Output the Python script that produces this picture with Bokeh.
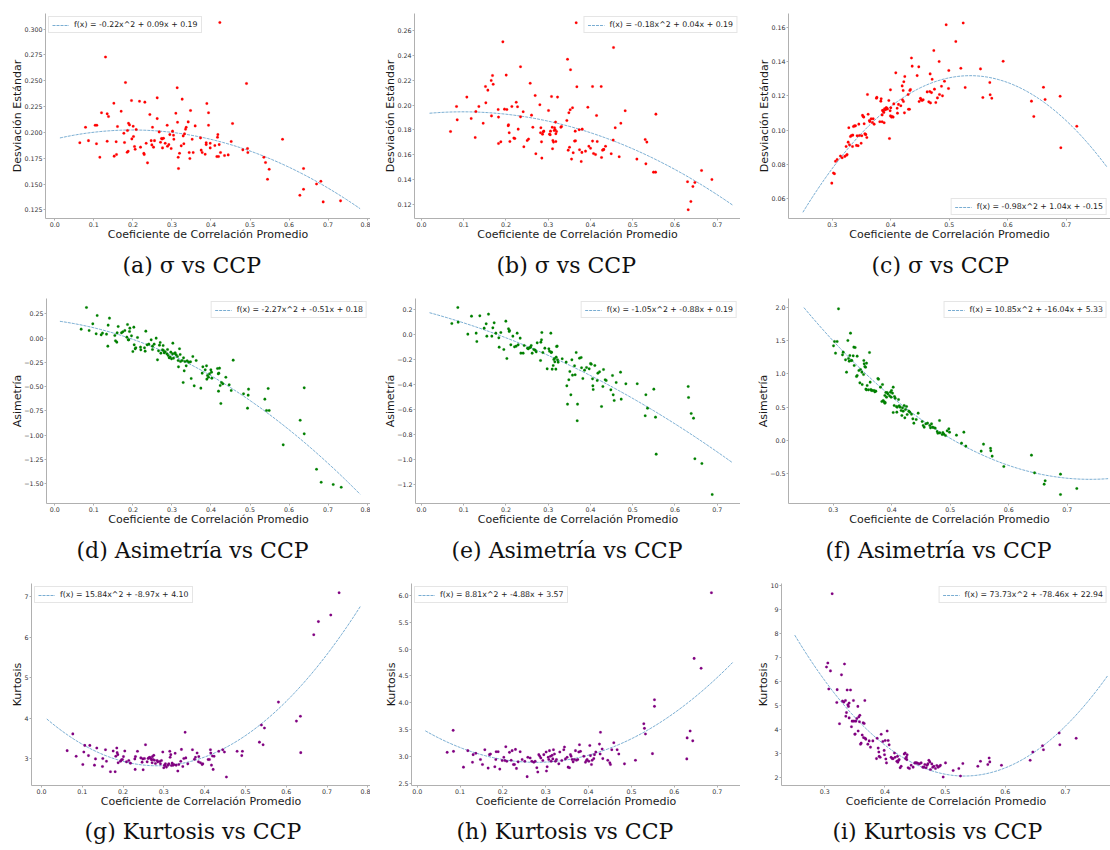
import numpy as np
from bokeh.plotting import figure
from bokeh.layouts import column, row
from bokeh.models import Range1d, FixedTicker, Title
from bokeh.embed import file_html
from bokeh.resources import INLINE

# ---------------- data ----------------
x_label = "Coeficiente de Correlación Promedio"
y_labels_rows = ["Desviación Estándar", "Asimetría", "Kurtosis"]
captions = ["(a) σ vs CCP", "(b) σ vs CCP", "(c) σ vs CCP",
            "(d) Asimetría vs CCP", "(e) Asimetría vs CCP", "(f) Asimetría vs CCP",
            "(g) Kurtosis vs CCP", "(h) Kurtosis vs CCP", "(i) Kurtosis vs CCP"]
legend_texts = ["f(x) = -0.22x^2 + 0.09x + 0.19",
                "f(x) = -0.18x^2 + 0.04x + 0.19",
                "f(x) = -0.98x^2 + 1.04x + -0.15",
                "f(x) = -2.27x^2 + -0.51x + 0.18",
                "f(x) = -1.05x^2 + -0.88x + 0.19",
                "f(x) = 10.85x^2 + -16.04x + 5.33",
                "f(x) = 15.84x^2 + -8.97x + 4.10",
                "f(x) = 8.81x^2 + -4.88x + 3.57",
                "f(x) = 73.73x^2 + -78.46x + 22.94"]

# quadratic fit coefficients [a, b, c] for a*x^2 + b*x + c
fit_a = [-0.224, 0.089, 0.1935]
fit_b = [-0.184, 0.036, 0.1928]
fit_c = [-0.974, 1.044, -0.148]
fit_d = [-2.27, -0.51, 0.18]
fit_e = [-1.05, -0.88, 0.194]
fit_f = [10.85, -16.04, 5.335]
fit_g = [15.84, -8.97, 4.10]
fit_h = [8.81, -4.88, 3.57]
fit_i = [73.73, -78.46, 22.94]
fit_span_col1 = [0.013, 0.782]
fit_span_col2 = [0.019, 0.736]
fit_span_col3 = [0.25, 0.77]

x_ticks_col1 = [0.0, 0.1, 0.2, 0.3, 0.4, 0.5, 0.6, 0.7, 0.8]
x_ticks_col2 = [0.0, 0.1, 0.2, 0.3, 0.4, 0.5, 0.6, 0.7]
x_ticks_col3 = [0.3, 0.4, 0.5, 0.6, 0.7]

y_ticks_a = [0.125, 0.15, 0.175, 0.2, 0.225, 0.25, 0.275, 0.3]
y_labels_a = ["0.125", "0.150", "0.175", "0.200", "0.225", "0.250", "0.275", "0.300"]
y_ticks_b = [0.12, 0.14, 0.16, 0.18, 0.2, 0.22, 0.24, 0.26]
y_labels_b = ["0.12", "0.14", "0.16", "0.18", "0.20", "0.22", "0.24", "0.26"]
y_ticks_c = [0.06, 0.08, 0.1, 0.12, 0.14, 0.16]
y_labels_c = ["0.06", "0.08", "0.10", "0.12", "0.14", "0.16"]
y_ticks_d = [-1.5, -1.25, -1.0, -0.75, -0.5, -0.25, 0.0, 0.25]
y_labels_d = ["−1.50", "−1.25", "−1.00", "−0.75", "−0.50", "−0.25", "0.00", "0.25"]
y_ticks_e = [-1.2, -1.0, -0.8, -0.6, -0.4, -0.2, 0.0, 0.2]
y_labels_e = ["−1.2", "−1.0", "−0.8", "−0.6", "−0.4", "−0.2", "0.0", "0.2"]
y_ticks_f = [-0.5, 0.0, 0.5, 1.0, 1.5, 2.0]
y_labels_f = ["−0.5", "0.0", "0.5", "1.0", "1.5", "2.0"]
y_ticks_g = [3, 4, 5, 6, 7]
y_labels_g = ["3", "4", "5", "6", "7"]
y_ticks_h = [2.5, 3.0, 3.5, 4.0, 4.5, 5.0, 5.5, 6.0]
y_labels_h = ["2.5", "3.0", "3.5", "4.0", "4.5", "5.0", "5.5", "6.0"]
y_ticks_i = [2, 3, 4, 5, 6, 7, 8, 9, 10]
y_labels_i = ["2", "3", "4", "5", "6", "7", "8", "9", "10"]

a_x = [0.064,0.0786,0.0862,0.1033,0.1076,0.1067,0.1153,0.1196,0.1298,0.1341,0.1341,0.1375,0.1512,0.152,0.1571,0.158,0.1605,0.1699,0.1768,0.1785,0.181,0.1853,0.1861,0.1879,0.1887,0.1913,0.1964,0.1973,0.2007,0.2015,0.2041,0.2058,0.2084,0.2169,0.2195,0.228,0.2289,0.2306,0.234,0.2374,0.2434,0.2468,0.2485,0.2502,0.2528,0.2553,0.2622,0.2622,0.2673,0.2707,0.2733,0.275,0.2758,0.2784,0.2827,0.2878,0.2886,0.2921,0.2946,0.298,0.3015,0.304,0.3049,0.31,0.3134,0.3143,0.316,0.3168,0.3194,0.3237,0.3262,0.3288,0.3305,0.3322,0.3348,0.3365,0.3416,0.3442,0.3459,0.3476,0.3518,0.3544,0.3595,0.3732,0.3749,0.3775,0.3851,0.3877,0.3877,0.3894,0.3937,0.3937,0.398,0.398,0.4099,0.415,0.4167,0.4176,0.4193,0.421,0.4227,0.4244,0.4347,0.4441,0.4518,0.4552,0.4816,0.491,0.4936,0.4944,0.5354,0.5397,0.5448,0.5491,0.5833,0.6277,0.6371,0.6371,0.6704,0.6815,0.6874,0.7319]
a_y = [0.19,0.205,0.192,0.207,0.207,0.189,0.176,0.219,0.273,0.1915,0.218,0.2154,0.2283,0.177,0.191,0.1786,0.2057,0.2205,0.1992,0.1902,0.2483,0.1808,0.2018,0.1818,0.2089,0.2073,0.2309,0.1937,0.206,0.196,0.1863,0.1837,0.2028,0.2302,0.1857,0.1798,0.1786,0.2293,0.1895,0.1705,0.2173,0.192,0.1879,0.205,0.1857,0.192,0.2335,0.2134,0.2005,0.1905,0.1941,0.1937,0.185,0.1944,0.1895,0.207,0.1866,0.1882,0.1979,0.1844,0.2012,0.1973,0.1934,0.2186,0.2432,0.2099,0.176,0.165,0.1798,0.187,0.2322,0.1966,0.189,0.1986,0.2031,0.205,0.2102,0.1805,0.1747,0.2212,0.1934,0.1805,0.2063,0.1947,0.1828,0.1805,0.1789,0.1882,0.19,0.228,0.219,0.207,0.185,0.1895,0.1873,0.1766,0.1953,0.1979,0.1766,0.1882,0.3065,0.1805,0.1776,0.1782,0.1912,0.2086,0.1831,0.2474,0.1844,0.1805,0.176,0.1708,0.1546,0.1643,0.1934,0.1391,0.145,0.165,0.1501,0.1527,0.1327,0.1337]

b_x = [0.0687,0.0829,0.0845,0.1073,0.1176,0.1271,0.1287,0.1358,0.146,0.1515,0.1523,0.1571,0.165,0.1657,0.1681,0.1697,0.1815,0.1823,0.1823,0.1878,0.1926,0.1965,0.2005,0.2021,0.2052,0.206,0.2076,0.2092,0.2139,0.2186,0.221,0.2242,0.2273,0.2289,0.2344,0.2344,0.2407,0.2423,0.2502,0.2534,0.2573,0.2605,0.2636,0.2691,0.2707,0.2802,0.2818,0.2826,0.2841,0.2849,0.2865,0.2881,0.2897,0.3007,0.3031,0.3047,0.3054,0.3078,0.3094,0.3102,0.311,0.3125,0.3141,0.3149,0.3165,0.3173,0.3181,0.3181,0.3197,0.322,0.3299,0.3315,0.3441,0.3457,0.3473,0.3489,0.3504,0.352,0.3528,0.3552,0.3575,0.3591,0.3623,0.3639,0.3646,0.3662,0.3678,0.3733,0.3741,0.3781,0.3797,0.3804,0.3883,0.3938,0.3962,0.4002,0.4049,0.4049,0.4073,0.412,0.4144,0.416,0.4254,0.4262,0.4286,0.4302,0.4317,0.4357,0.4491,0.4538,0.4546,0.4586,0.468,0.4719,0.4822,0.5099,0.5296,0.5312,0.5335,0.5493,0.5541,0.5549,0.6298,0.6314,0.6377,0.6425,0.6472,0.663,0.6875]
b_y = [0.1787,0.1989,0.1881,0.2064,0.1892,0.1739,0.1948,0.1989,0.1854,0.2149,0.2018,0.212,0.2198,0.1913,0.2238,0.2168,0.1964,0.1903,0.1691,0.1704,0.2509,0.1967,0.2241,0.1964,0.1833,0.1841,0.1777,0.1707,0.1989,0.1734,0.1731,0.2023,0.1986,0.1806,0.2308,0.1905,0.1946,0.1664,0.1715,0.1726,0.2176,0.1919,0.1822,0.2077,0.1608,0.2002,0.1777,0.1817,0.1704,0.1573,0.1766,0.1785,0.179,0.1956,0.1766,0.1761,0.179,0.2069,0.1822,0.1648,0.1715,0.1702,0.1795,0.1817,0.1801,0.1863,0.1769,0.1707,0.1787,0.2064,0.1822,0.1828,0.1876,0.2369,0.1637,0.1938,0.1661,0.1962,0.2284,0.1565,0.1978,0.1616,0.171,0.179,0.1712,0.2662,0.2147,0.1801,0.164,0.1546,0.1619,0.1806,0.1629,0.1983,0.1669,0.1653,0.171,0.2149,0.161,0.1602,0.1916,0.1707,0.2149,0.1578,0.1637,0.164,0.1643,0.1669,0.1608,0.1718,0.2463,0.1817,0.1584,0.1854,0.1954,0.1565,0.1723,0.1527,0.1702,0.146,0.146,0.1927,0.1383,0.1157,0.1224,0.1345,0.1377,0.1474,0.1401]

c_x = [0.2994,0.3023,0.304,0.3057,0.3085,0.3142,0.3171,0.3216,0.3239,0.3245,0.3256,0.3274,0.3285,0.3296,0.3313,0.333,0.3348,0.3353,0.3365,0.3382,0.3399,0.3416,0.3427,0.3444,0.3456,0.3467,0.3496,0.3507,0.3519,0.353,0.3541,0.3547,0.3559,0.357,0.3576,0.3593,0.3604,0.3615,0.3638,0.3644,0.3667,0.3689,0.3701,0.3718,0.3758,0.3764,0.3815,0.3832,0.3838,0.3855,0.3855,0.3861,0.3872,0.3883,0.3889,0.3895,0.3906,0.3912,0.3923,0.3929,0.3946,0.3969,0.398,0.3991,0.3997,0.3997,0.4003,0.4014,0.4026,0.4043,0.4054,0.4088,0.4111,0.4117,0.4134,0.4174,0.4197,0.4202,0.4214,0.4219,0.4225,0.4236,0.4242,0.4299,0.4305,0.4322,0.4328,0.4339,0.4356,0.4368,0.4453,0.4481,0.4487,0.451,0.4521,0.4538,0.4556,0.4624,0.4652,0.4669,0.4675,0.4681,0.4698,0.4709,0.4738,0.4749,0.4772,0.48,0.4829,0.4835,0.4869,0.4886,0.492,0.4949,0.4989,0.4994,0.5114,0.52,0.524,0.5274,0.5536,0.5576,0.5695,0.5701,0.5729,0.5923,0.6407,0.6447,0.6612,0.664,0.6897,0.6909,0.7182]
c_y = [0.0691,0.075,0.0746,0.0819,0.0829,0.0849,0.0839,0.0847,0.0905,0.0854,0.0858,0.093,0.1014,0.0915,0.0963,0.0969,0.0905,0.0971,0.1021,0.1025,0.1025,0.0911,0.0967,0.0909,0.1035,0.0969,0.0924,0.0967,0.1087,0.108,0.1076,0.1037,0.0979,0.0975,0.0975,0.0957,0.1208,0.1093,0.1056,0.105,0.1066,0.1045,0.1066,0.1035,0.1186,0.1192,0.1049,0.1169,0.1183,0.1089,0.1049,0.1115,0.1111,0.1103,0.1043,0.1124,0.112,0.112,0.113,0.113,0.1124,0.1173,0.0951,0.1113,0.1083,0.1235,0.113,0.1076,0.108,0.1076,0.1153,0.1334,0.1128,0.1099,0.115,0.1142,0.1258,0.1177,0.1231,0.1167,0.1282,0.1101,0.1313,0.1208,0.1122,0.1122,0.1231,0.1237,0.1421,0.1373,0.1318,0.1369,0.1167,0.1186,0.1177,0.1173,0.1177,0.1223,0.1165,0.1225,0.1328,0.1159,0.1219,0.1297,0.1464,0.1239,0.1161,0.1188,0.14,0.1208,0.1256,0.12,0.1285,0.1614,0.1243,0.1348,0.1517,0.1361,0.1625,0.1249,0.1357,0.119,0.1278,0.1206,0.1186,0.1402,0.1169,0.108,0.125,0.1179,0.1198,0.0897,0.1023]

d_x = [0.0675,0.0811,0.0879,0.0973,0.1059,0.1085,0.1187,0.1221,0.1324,0.1358,0.1366,0.14,0.1537,0.1554,0.1588,0.1597,0.1623,0.1708,0.1742,0.1794,0.1845,0.1862,0.1879,0.1896,0.1913,0.1922,0.1964,0.1999,0.2024,0.2033,0.2058,0.2075,0.2118,0.2195,0.2203,0.2297,0.2314,0.2331,0.2365,0.2408,0.2468,0.2502,0.2502,0.2545,0.2596,0.263,0.2656,0.2681,0.2699,0.2716,0.2758,0.2775,0.2784,0.2801,0.2827,0.287,0.2887,0.2904,0.2929,0.2955,0.2972,0.2989,0.3015,0.3023,0.304,0.3066,0.3083,0.3109,0.3143,0.316,0.3168,0.3194,0.3211,0.322,0.3262,0.3288,0.3297,0.3314,0.3331,0.3365,0.339,0.3433,0.3476,0.3493,0.3535,0.357,0.3621,0.3741,0.3775,0.3792,0.3852,0.3886,0.3894,0.3911,0.3937,0.3963,0.3997,0.4014,0.4022,0.4168,0.4185,0.4193,0.4202,0.4219,0.4236,0.4253,0.427,0.4304,0.4381,0.4467,0.4518,0.4569,0.4834,0.4936,0.4953,0.4962,0.538,0.5423,0.5465,0.5491,0.585,0.6285,0.6388,0.6388,0.6704,0.6823,0.7131,0.7336]
d_y = [0.0921,0.3152,0.0784,0.147,0.0441,0.2328,0.0338,0.051,0.0407,-0.0829,0.1333,0.2054,0.0269,-0.028,-0.0417,0.0544,0.1196,0.0544,0.0647,0.0784,0.0098,0.1402,-0.0177,-0.0177,0.0681,0.1024,0.0235,-0.1378,0.1127,-0.0691,-0.1103,-0.1,0.0063,-0.0932,-0.1206,-0.1,-0.1344,0.0716,-0.0691,-0.0623,-0.0177,-0.0829,-0.1172,-0.0623,-0.0005,-0.2236,-0.1309,-0.0726,-0.0451,-0.1549,-0.1206,-0.076,-0.1275,-0.1515,-0.1412,-0.1618,-0.1172,-0.179,-0.203,-0.1961,-0.1446,-0.2133,-0.1618,-0.052,-0.2064,-0.1584,-0.1515,-0.1721,-0.1893,-0.2304,-0.2956,-0.1103,-0.1687,-0.2407,-0.2304,-0.4569,-0.203,-0.3368,-0.2407,-0.2853,-0.2339,-0.2476,-0.2442,-0.4158,-0.1893,-0.4913,-0.2304,-0.5153,-0.3608,-0.2956,-0.3265,-0.2853,-0.4226,-0.3849,-0.4021,-0.3677,-0.3265,-0.3505,-0.4123,-0.3128,-0.3677,-0.5462,-0.3608,-0.3094,-0.4878,-0.6731,-0.4569,-0.4707,-0.4021,-0.481,-0.5393,-0.227,-0.5736,-0.7212,-0.5873,-0.5256,-0.6285,-0.7452,-0.5187,-0.7452,-1.0987,-0.8447,-0.5118,-0.9854,-1.3492,-1.483,-1.5071,-1.5345]

e_x = [0.0718,0.086,0.0868,0.1097,0.1184,0.1294,0.131,0.1381,0.1484,0.1531,0.1547,0.1586,0.1665,0.1689,0.172,0.176,0.1831,0.1839,0.1878,0.1949,0.1997,0.2021,0.206,0.2076,0.2084,0.2115,0.2163,0.2202,0.2242,0.2265,0.2289,0.2336,0.2352,0.2407,0.2431,0.251,0.2526,0.2557,0.2581,0.2597,0.262,0.266,0.2691,0.2715,0.2739,0.2818,0.2826,0.2841,0.2849,0.2873,0.292,0.2975,0.3015,0.3031,0.3062,0.307,0.3078,0.3094,0.3118,0.3133,0.3149,0.3157,0.3181,0.3189,0.3197,0.3212,0.322,0.3236,0.3331,0.3425,0.3441,0.3457,0.3488,0.3512,0.3536,0.356,0.3575,0.3623,0.3638,0.3662,0.3686,0.3694,0.3741,0.3781,0.3789,0.382,0.386,0.3907,0.397,0.4002,0.4018,0.4049,0.4057,0.4065,0.4104,0.416,0.4175,0.4215,0.4262,0.4294,0.4309,0.4349,0.4373,0.4483,0.4522,0.4538,0.4562,0.4609,0.4712,0.4728,0.4838,0.5107,0.5296,0.5312,0.5351,0.55,0.554,0.5556,0.6314,0.6322,0.6385,0.644,0.6472,0.6638,0.6882]
e_y = [0.0907,0.2187,0.1013,0.0053,0.1493,0.0133,-0.0533,0.152,0.0533,0.088,-0.0107,0.1653,-0.0107,0.056,0.096,0.0133,-0.024,-0.0987,0.0187,-0.1173,0.1093,-0.1893,0.048,0.0267,0.0347,-0.08,-0.0107,-0.096,-0.0907,0.0133,-0.08,-0.0267,-0.1467,-0.1467,-0.0853,-0.1067,-0.112,-0.104,-0.0987,-0.0853,-0.1467,-0.1173,-0.1227,-0.136,-0.064,-0.2053,-0.0587,-0.04,0.0187,-0.1413,-0.1067,-0.272,-0.112,-0.1307,0.0133,-0.1413,-0.1387,-0.2747,-0.2453,-0.1973,-0.1893,-0.216,-0.2747,-0.1787,-0.0933,-0.0907,-0.2,-0.2187,-0.192,-0.2187,-0.408,-0.5547,-0.36,-0.2933,-0.48,-0.2,-0.3227,-0.248,-0.32,-0.1413,-0.688,-0.5547,-0.1867,-0.1813,-0.264,-0.3493,-0.2827,-0.2613,-0.272,-0.2293,-0.2347,-0.352,-0.408,-0.4373,-0.2453,-0.3653,-0.3067,-0.296,-0.5733,-0.4133,-0.2773,-0.36,-0.3653,-0.44,-0.3253,-0.48,-0.5253,-0.3813,-0.2987,-0.5147,-0.392,-0.392,-0.648,-0.48,-0.5867,-0.4347,-0.6587,-0.9547,-0.4133,-0.5013,-0.6293,-0.6667,-0.992,-1.0293,-1.2773]

f_x = [0.3006,0.3023,0.304,0.3068,0.3091,0.3159,0.3171,0.3211,0.3228,0.3251,0.3262,0.3274,0.3285,0.3296,0.3308,0.3319,0.3342,0.3353,0.3359,0.3376,0.3399,0.341,0.341,0.3439,0.3456,0.3467,0.349,0.3496,0.3519,0.3524,0.353,0.3541,0.3553,0.3559,0.357,0.357,0.3581,0.3604,0.3621,0.3632,0.3644,0.3655,0.3672,0.37,0.3712,0.3729,0.3764,0.3775,0.3809,0.3832,0.3843,0.3855,0.3872,0.3883,0.3883,0.3889,0.39,0.3912,0.3923,0.3934,0.3963,0.398,0.3991,0.3997,0.4014,0.4026,0.4026,0.4043,0.4048,0.406,0.4083,0.4088,0.4094,0.4117,0.4128,0.4145,0.4162,0.4174,0.4185,0.4197,0.4214,0.4225,0.4236,0.4254,0.4265,0.4293,0.431,0.4339,0.4362,0.4379,0.4419,0.4453,0.4521,0.4538,0.4556,0.4584,0.4613,0.4652,0.4664,0.4681,0.4698,0.4715,0.4744,0.4778,0.4789,0.4818,0.4823,0.4863,0.4875,0.4892,0.492,0.4949,0.4977,0.4989,0.5108,0.5194,0.5234,0.5268,0.553,0.557,0.569,0.5695,0.5718,0.5917,0.639,0.6442,0.6607,0.6624,0.6886,0.6886,0.7165]
f_y = [1.4254,1.4909,1.3145,1.4909,1.9849,1.2893,1.3296,1.2137,1.0272,1.506,1.2339,1.1935,1.2792,1.6169,1.2036,1.2036,1.2742,1.4052,1.128,1.4002,0.9617,0.9768,1.2692,1.0524,0.8659,1.0675,1.0272,0.8407,0.9919,1.2036,1.1532,1.1129,1.1028,0.7702,1.1633,0.7601,0.8256,0.7601,1.3246,0.876,0.7651,0.75,0.75,0.75,0.7298,0.7399,0.9315,0.9214,0.8004,0.5837,0.8407,0.5988,0.5786,0.5585,0.6744,0.5685,0.7198,0.6492,0.7198,0.6996,0.6694,0.7248,0.6492,0.75,0.7097,0.8004,0.4173,0.5232,0.6593,0.6341,0.5081,0.4224,0.498,0.6139,0.5181,0.498,0.4476,0.372,0.4879,0.4375,0.5232,0.3367,0.4627,0.5081,0.3871,0.4375,0.4224,0.3921,0.3216,0.256,0.3115,0.4073,0.2812,0.2208,0.1956,0.246,0.256,0.2208,0.1855,0.246,0.1956,0.1905,0.1804,0.13,0.1048,0.2964,0.1099,0.0847,0.1149,0.0897,0.0696,0.1401,0.1704,0.1204,0.0746,-0.0464,0.1204,-0.0917,-0.1673,-0.0615,-0.125,-0.1628,-0.2429,-0.3992,-0.2278,-0.495,-0.6663,-0.6159,-0.5151,-0.8226,-0.7319]

g_x = [0.0629,0.0768,0.085,0.1013,0.1038,0.1062,0.1152,0.1185,0.1299,0.1324,0.1356,0.1495,0.1503,0.1569,0.1593,0.1691,0.1757,0.1806,0.1822,0.1846,0.1855,0.1871,0.1879,0.1936,0.1961,0.1985,0.201,0.2042,0.2083,0.214,0.2181,0.2288,0.2296,0.2304,0.2353,0.2435,0.2467,0.2484,0.2492,0.2525,0.255,0.259,0.2614,0.2631,0.2655,0.268,0.2696,0.2712,0.2721,0.2737,0.2753,0.277,0.2794,0.2835,0.2851,0.29,0.2917,0.2941,0.2974,0.2998,0.3015,0.3031,0.3039,0.3064,0.3105,0.3121,0.3145,0.3154,0.317,0.3186,0.3203,0.3227,0.3244,0.3276,0.3301,0.3342,0.3366,0.3415,0.3431,0.3464,0.3489,0.3521,0.3538,0.3587,0.3701,0.375,0.3775,0.3815,0.3848,0.3856,0.3897,0.3938,0.3954,0.4085,0.4118,0.4142,0.415,0.4167,0.4191,0.4208,0.4232,0.4346,0.4444,0.4485,0.4534,0.4796,0.491,0.4926,0.5343,0.5392,0.5433,0.5466,0.5809,0.625,0.6348,0.6356,0.6675,0.6789,0.7092,0.7296]
g_y = [3.203,3.617,3.065,2.862,3.17,3.333,3.081,3.333,2.846,3.0,3.268,2.813,3.008,3.227,2.943,2.684,3.195,2.684,3.065,3.268,3.154,3.105,2.903,2.943,2.976,2.984,3.057,3.195,2.927,2.959,2.895,3.0,2.74,3.057,3.187,3.024,2.919,3.0,2.732,3.008,3.349,2.927,3.008,3.024,3.041,3.008,2.976,2.903,3.057,2.984,3.089,2.968,2.886,2.959,2.927,2.935,2.878,2.959,3.17,2.781,2.846,2.838,2.878,2.797,2.846,2.878,3.187,3.041,3.105,2.838,2.895,2.846,2.862,3.138,2.846,2.7,2.862,2.943,3.235,2.813,3.008,3.657,3.024,2.878,3.227,2.992,3.041,3.146,2.927,3.057,2.903,2.862,2.878,2.984,2.984,3.227,3.146,2.846,3.073,2.74,3.065,3.187,3.227,3.17,2.554,3.187,3.081,3.187,3.414,3.836,3.349,3.763,4.403,3.933,4.055,3.154,6.067,6.391,6.554,7.105]

h_x = [0.07,0.084,0.0848,0.1081,0.1182,0.1291,0.1306,0.1369,0.1477,0.1524,0.1579,0.1656,0.1687,0.1711,0.1812,0.1835,0.1843,0.189,0.1928,0.1983,0.2022,0.2045,0.2068,0.2092,0.2154,0.2193,0.2216,0.2247,0.2271,0.2294,0.2317,0.2356,0.2403,0.245,0.2512,0.2566,0.2582,0.2636,0.2675,0.2722,0.2753,0.2792,0.2815,0.2838,0.2862,0.2885,0.2932,0.2955,0.3009,0.3017,0.3033,0.3056,0.3072,0.3087,0.311,0.3126,0.3149,0.3165,0.318,0.3204,0.3227,0.325,0.3305,0.3328,0.3375,0.3421,0.3437,0.346,0.3499,0.3522,0.3554,0.3577,0.3593,0.3616,0.3639,0.367,0.3694,0.3717,0.3748,0.3771,0.3787,0.381,0.3888,0.3927,0.395,0.3966,0.4005,0.4028,0.4044,0.4067,0.4082,0.4121,0.4137,0.4168,0.4253,0.4269,0.4277,0.4316,0.4331,0.4448,0.4495,0.451,0.4541,0.4588,0.4666,0.4705,0.4837,0.5093,0.5288,0.5303,0.5327,0.549,0.5537,0.5537,0.6291,0.6299,0.6369,0.643,0.6462,0.6625,0.6866]
h_y = [3.08,3.489,3.098,2.805,3.111,2.897,3.037,3.062,2.946,2.854,3.129,2.787,3.037,3.05,2.811,2.946,3.092,3.092,2.768,2.927,2.988,2.927,3.184,2.915,3.08,2.933,3.111,2.854,2.854,3.135,2.781,2.903,3.092,2.946,2.915,2.628,2.988,2.976,2.915,2.897,2.915,2.793,2.713,3.037,3.007,2.976,2.927,3.037,3.086,2.732,2.811,2.988,2.946,3.111,3.007,2.915,3.025,2.958,3.129,3.05,2.915,2.946,2.866,3.086,2.927,3.129,3.178,2.958,2.988,2.805,2.793,3.037,3.007,2.946,2.903,2.946,3.111,2.933,2.946,3.086,3.221,3.098,3.007,2.897,2.927,2.946,2.915,3.208,3.019,2.854,2.933,2.964,3.037,3.086,3.233,3.05,3.453,3.141,2.964,2.933,2.885,2.854,3.129,3.257,3.129,3.05,2.866,2.933,3.611,3.526,3.422,3.056,3.935,4.057,2.958,3.349,3.477,3.294,4.827,4.644,6.049]

i_x = [0.3028,0.305,0.3066,0.3094,0.3199,0.3205,0.3244,0.3277,0.3294,0.3316,0.3327,0.3343,0.3349,0.336,0.3371,0.3382,0.3393,0.3404,0.3404,0.3427,0.3443,0.3454,0.3476,0.3482,0.3499,0.3504,0.3515,0.3532,0.3549,0.3554,0.3565,0.3576,0.3582,0.3593,0.3604,0.3621,0.3637,0.3643,0.3654,0.3665,0.3671,0.3682,0.3715,0.3737,0.3759,0.3798,0.3859,0.387,0.3887,0.3898,0.3903,0.392,0.3937,0.3964,0.3986,0.3992,0.4003,0.4014,0.4025,0.4036,0.4053,0.4069,0.4102,0.4119,0.4136,0.4158,0.4169,0.4197,0.4208,0.4213,0.4224,0.4235,0.4252,0.4269,0.4319,0.4335,0.4341,0.4357,0.4363,0.4368,0.4385,0.4407,0.4435,0.4468,0.4496,0.4512,0.4529,0.4551,0.4573,0.4601,0.4629,0.4646,0.4662,0.4684,0.4701,0.4712,0.4729,0.4745,0.4756,0.4778,0.4795,0.4812,0.4839,0.4861,0.4884,0.4906,0.4922,0.4967,0.5006,0.5133,0.5227,0.5255,0.5294,0.5543,0.5587,0.5709,0.5731,0.5742,0.5936,0.6413,0.6457,0.6618,0.6634,0.6895,0.6906,0.7177,0.3122]
i_y = [6.607,6.772,5.691,6.443,5.13,5.663,4.241,6.279,5.185,5.144,6.731,5.212,4.555,4.706,5.65,5.034,4.966,4.487,5.103,5.65,4.118,4.35,5.212,4.35,3.803,3.817,4.35,4.46,4.966,3.94,4.528,4.323,4.596,3.393,3.434,3.776,4.282,3.666,4.255,5.212,3.639,3.598,3.393,3.529,3.269,3.529,2.791,3.639,3.228,3.064,2.886,2.845,3.803,3.502,3.133,2.955,3.543,2.777,2.613,3.94,3.543,3.365,2.845,2.791,2.791,3.023,2.845,2.681,2.886,2.64,2.709,2.75,2.408,2.476,2.982,3.023,2.791,2.859,2.75,2.955,2.408,2.38,2.517,2.435,2.613,2.613,2.613,2.585,2.572,2.613,2.435,2.435,2.544,2.408,2.517,2.572,2.722,2.654,2.339,2.572,2.435,2.476,2.38,2.503,2.435,2.476,2.517,2.025,2.613,2.298,2.38,2.066,2.585,2.476,2.681,2.544,2.818,2.654,2.517,2.722,3.064,3.324,3.16,3.858,3.365,3.639,9.658]

# ---------------- styling helpers ----------------
AX_COLOR = "#b0b0b0"
SANS = "DejaVu Sans"
SERIF = "DejaVu Serif"


def make_panel(xs, ys, color, xr, yr, xticks, yticks, ylabels_txt, ylabel,
               coef, span, legend_text, legend_loc, caption, left, height, cap_offset, cap_standoff):
    p = figure(width=370, height=height, output_backend="svg", toolbar_location=None,
               x_range=Range1d(*xr), y_range=Range1d(*yr),
               min_border_left=left, min_border_right=0, min_border_top=13,
               min_border_bottom=height - 218)
    p.outline_line_color = None
    p.xgrid.visible = False
    p.ygrid.visible = False
    p.background_fill_color = "white"
    p.border_fill_color = "white"

    fx = np.linspace(span[0], span[1], 200)
    fy = coef[0] * fx ** 2 + coef[1] * fx + coef[2]
    p.line(fx, fy, line_color="#1f77b4", line_alpha=0.6, line_width=1,
           line_dash="3 1", legend_label=legend_text)
    p.scatter(xs, ys, size=2.6, fill_color=color, line_color=color, line_width=0.2)

    xa = p.xaxis[0]
    ya = p.yaxis[0]
    xa.ticker = FixedTicker(ticks=xticks)
    xa.major_label_overrides = {t: f"{t:.1f}" for t in xticks}
    ya.ticker = FixedTicker(ticks=yticks)
    ya.major_label_overrides = {t: s for t, s in zip(yticks, ylabels_txt)}
    xa.axis_label = x_label
    ya.axis_label = ylabel
    for ax in (xa, ya):
        ax.axis_line_color = AX_COLOR
        ax.axis_line_width = 1
        ax.major_tick_line_color = AX_COLOR
        ax.major_tick_out = 2
        ax.major_tick_in = 0
        ax.minor_tick_line_color = None
        ax.major_label_text_font = SANS
        ax.major_label_text_font_size = "6.3px"
        ax.major_label_text_color = "#333333"
        ax.major_label_standoff = 1
        ax.axis_label_text_font = SANS
        ax.axis_label_text_font_size = "11px"
        ax.axis_label_text_font_style = "normal"
        ax.axis_label_text_color = "#1a1a1a"
    xa.axis_label_standoff = -2
    ya.axis_label_standoff = -3

    leg = p.legend[0]
    leg.location = legend_loc
    leg.margin = 3
    leg.padding = 3
    leg.spacing = 0
    leg.label_text_font = SANS
    leg.label_text_font_size = "7.8px"
    leg.label_text_color = "#222222"
    leg.label_height = 8
    leg.label_width = 10
    leg.glyph_height = 8
    leg.glyph_width = 17
    leg.label_standoff = 5
    leg.border_line_color = "#cccccc"
    leg.border_line_width = 0.8
    leg.background_fill_alpha = 0.85

    p.add_layout(Title(text=caption, align="left", offset=cap_offset, standoff=cap_standoff,
                       text_font=SERIF, text_font_size="22px", text_font_style="normal",
                       text_color="#111111"), "below")
    return p


RED, GREEN, PURPLE = "#ff0000", "#008000", "#800080"

pa = make_panel(a_x, a_y, RED, (-0.0239, 0.8086), (0.1166, 0.3152), x_ticks_col1, y_ticks_a, y_labels_a,
                y_labels_rows[0], fit_a, fit_span_col1, legend_texts[0], "top_left", captions[0], 45, 285, 77, 14)
pb = make_panel(b_x, b_y, RED, (-0.0166, 0.7552), (0.1087, 0.2737), x_ticks_col2, y_ticks_b, y_labels_b,
                y_labels_rows[0], fit_b, fit_span_col2, legend_texts[1], "top_right", captions[1], 44, 285, 82, 14)
pc = make_panel(c_x, c_y, RED, (0.2254, 0.7758), (0.0485, 0.168), x_ticks_col3, y_ticks_c, y_labels_c,
                y_labels_rows[0], fit_c, fit_span_col3, legend_texts[2], "bottom_right", captions[2], 48, 285, 83, 14)

pd_ = make_panel(d_x, d_y, GREEN, (-0.0213, 0.8086), (-1.7025, 0.4078), x_ticks_col1, y_ticks_d, y_labels_d,
                 y_labels_rows[1], fit_d, fit_span_col1, legend_texts[3], "top_right", captions[3], 46, 285, 30, 15)
pe = make_panel(e_x, e_y, GREEN, (-0.0142, 0.7552), (-1.3494, 0.2906), x_ticks_col2, y_ticks_e, y_labels_e,
                y_labels_rows[1], fit_e, fit_span_col2, legend_texts[4], "top_right", captions[4], 45, 285, 36, 15)
pf = make_panel(f_x, f_y, GREEN, (0.2236, 0.7741), (-0.9587, 2.1411), x_ticks_col3, y_ticks_f, y_labels_f,
                y_labels_rows[1], fit_f, fit_span_col3, legend_texts[5], "top_right", captions[5], 48, 285, 37, 15)

pg = make_panel(g_x, g_y, PURPLE, (-0.0245, 0.8066), (2.3427, 7.3327), x_ticks_col1, y_ticks_g, y_labels_g,
                y_labels_rows[2], fit_g, fit_span_col1, legend_texts[6], "top_left", captions[6], 31, 280, 53, 13)
ph = make_panel(h_x, h_y, PURPLE, (-0.0132, 0.7544), (2.4633, 6.22), x_ticks_col2, y_ticks_h, y_labels_h,
                y_labels_rows[2], fit_h, fit_span_col2, legend_texts[7], "top_left", captions[7], 41, 280, 45, 13)
pi = make_panel(i_x, i_y, PURPLE, (0.228, 0.7748), (1.6718, 10.082), x_ticks_col3, y_ticks_i, y_labels_i,
                y_labels_rows[2], fit_i, fit_span_col3, legend_texts[8], "top_right", captions[8], 41, 280, 51, 13)

p = column(row(pa, pb, pc), row(pd_, pe, pf), row(pg, ph, pi))

open("out.html", "w").write(file_html(p, INLINE))
